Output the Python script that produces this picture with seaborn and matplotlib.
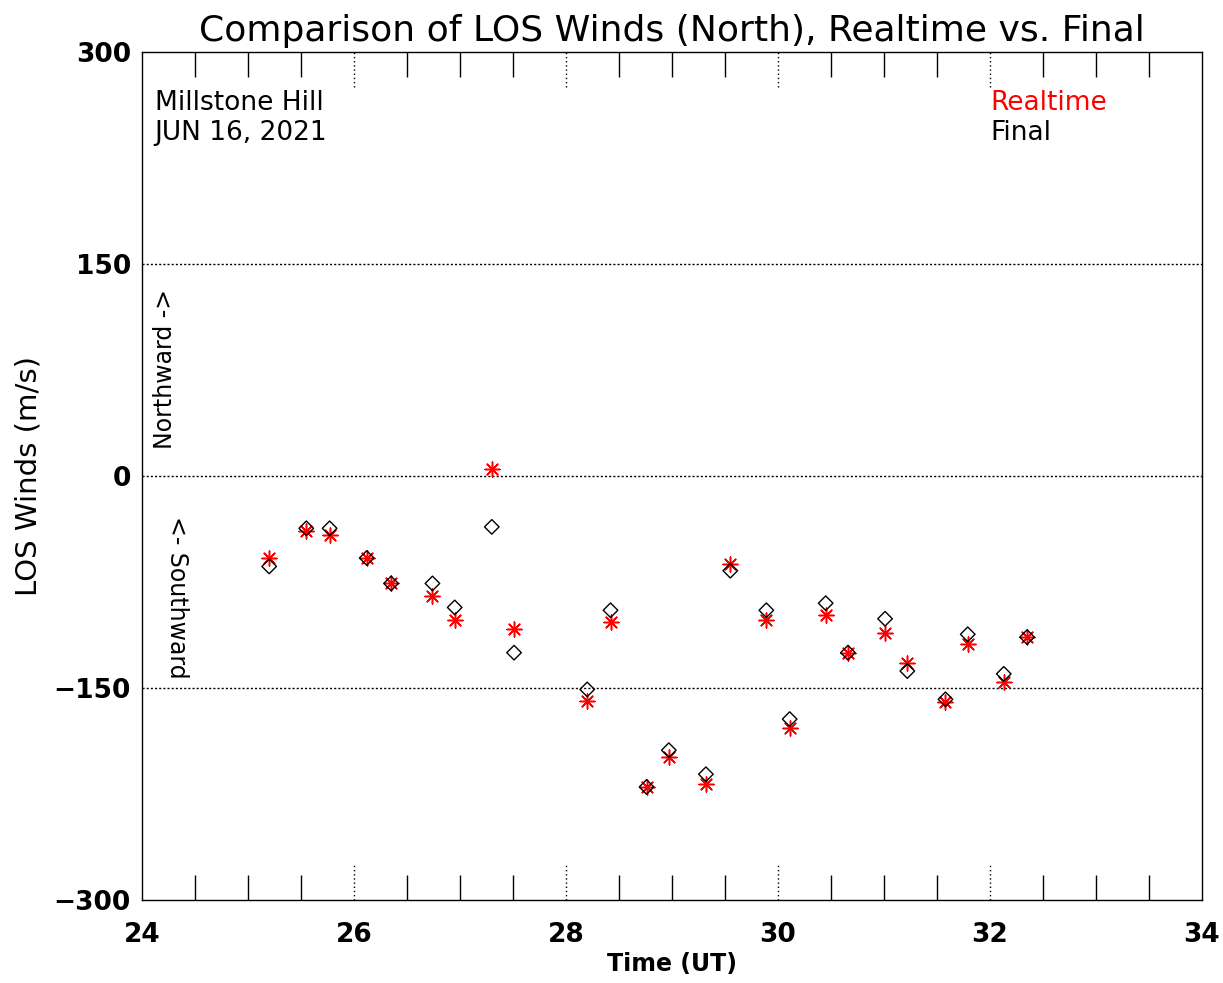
import numpy as np
import matplotlib
matplotlib.use("Agg")
import matplotlib.pyplot as plt
import seaborn as sns

# ---- data ----
time_ut = [25.20, 25.55, 25.77, 26.12, 26.35, 26.74, 26.95, 27.30, 27.51,
           28.20, 28.42, 28.76, 28.97, 29.32, 29.55, 29.89, 30.11, 30.45,
           30.66, 31.01, 31.22, 31.58, 31.79, 32.13, 32.35]
realtime = [-58, -39, -42, -58, -76, -85, -102, 5, -108,
            -159, -103, -220, -199, -218, -62, -102, -178, -98,
            -125, -111, -132, -160, -119, -146, -114]
final = [-64, -37, -37, -58, -76, -76, -93, -36, -125,
         -151, -95, -220, -194, -211, -67, -95, -172, -90,
         -125, -101, -138, -158, -112, -140, -114]

xticks = [24, 26, 28, 30, 32, 34]
yticks = [-300, -150, 0, 150, 300]
grid_y = [-150, 0, 150]
major_mid = [26, 28, 30, 32]
minor_ticks = [24.5, 25, 25.5, 26.5, 27, 27.5, 28.5, 29, 29.5,
               30.5, 31, 31.5, 32.5, 33, 33.5]

title = "Comparison of LOS Winds (North), Realtime vs. Final"

sns.set_theme(style="white")
plt.rcParams['font.family'] = ['DejaVu Sans']
plt.rcParams['text.color'] = 'black'
plt.rcParams['axes.labelcolor'] = 'black'
plt.rcParams['xtick.color'] = 'black'
plt.rcParams['ytick.color'] = 'black'

fig = plt.figure(figsize=(12.23, 9.83), dpi=100)
ax = fig.add_axes([142/1223, 1 - 900/983, 1060/1223, 848/983])

for yv in grid_y:
    ax.axhline(yv, color='black', linestyle=(0, (1.5, 1.5)), linewidth=1.0, zorder=1)

# dotted major ticks (top and bottom)
for xv in major_mid:
    ax.axvline(xv, ymin=0, ymax=35/848, color='black', linestyle=(0, (1, 2)), linewidth=1.0)
    ax.axvline(xv, ymin=1 - 35/848, ymax=1, color='black', linestyle=(0, (1, 2)), linewidth=1.0)

sns.scatterplot(x=time_ut, y=realtime, marker=(8, 2, 0), color='red', s=115,
                linewidth=1.1, ax=ax, zorder=3)
sns.scatterplot(x=time_ut, y=final, marker='D', color='black', facecolor='none',
                edgecolor='black', s=55, linewidth=1.0, ax=ax, zorder=4)

ax.set_xlim(24, 34)
ax.set_ylim(-300, 300)
ax.set_xticks(xticks)
ax.set_xticklabels([str(v) for v in xticks])
ax.set_xticks(minor_ticks, minor=True)
ax.set_yticks(yticks)
ax.set_yticklabels([str(v) if v >= 0 else '\u2212' + str(-v) for v in yticks])

ax.tick_params(axis='x', which='major', length=0, pad=16, labelsize=19)
ax.tick_params(axis='x', which='minor', direction='in', length=18, width=1.0,
               top=True, bottom=True, color='black')
ax.tick_params(axis='y', which='both', length=0, pad=8, labelsize=19)
for lab in ax.get_xticklabels() + ax.get_yticklabels():
    lab.set_fontweight('bold')

for sp in ax.spines.values():
    sp.set_color('black')
    sp.set_linewidth(1.0)

ax.set_title(title, fontsize=26, pad=8)
ax.set_xlabel("Time (UT)", fontsize=17, fontweight='bold', labelpad=3)
ax.set_ylabel("LOS Winds (m/s)", fontsize=21, labelpad=8)

ax.text(0.012, 0.94, "Millstone Hill", transform=ax.transAxes, fontsize=19,
        va='center', ha='left')
ax.text(0.012, 0.904, "JUN 16, 2021", transform=ax.transAxes, fontsize=19,
        va='center', ha='left')
ax.text(0.80, 0.94, "Realtime", transform=ax.transAxes, fontsize=19,
        va='center', ha='left', color='red')
ax.text(0.80, 0.904, "Final", transform=ax.transAxes, fontsize=19,
        va='center', ha='left', color='black')

ax.text(0.0217, 0.626, "Northward ->", transform=ax.transAxes, fontsize=17,
        rotation=90, va='center', ha='center')
ax.text(0.033, 0.357, "<- Southward", transform=ax.transAxes, fontsize=17,
        rotation=270, va='center', ha='center')

fig.savefig("out.png", dpi=100)
